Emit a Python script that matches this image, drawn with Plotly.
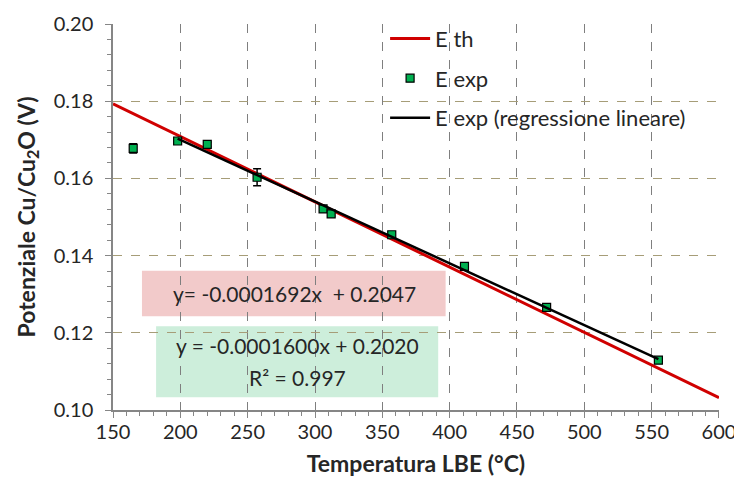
import plotly.graph_objects as go

# Data
temp_exp = [165, 198, 220, 257, 306, 312, 357, 411, 472, 555]
e_exp = [0.1678, 0.1697, 0.1688, 0.1603, 0.1521, 0.1508, 0.1454, 0.1372, 0.1266, 0.1129]
e_err = [0.0012, 0.0005, 0.0006, 0.0022, 0.0005, 0.0006, 0.0008, 0.0004, 0.0006, 0.0004]

th_slope, th_icpt = -0.0001692, 0.2047
reg_slope, reg_icpt = -0.0001600, 0.2020
th_x = [150, 600]
reg_x = [198, 555]

th_y = [th_slope * x + th_icpt for x in th_x]
reg_y = [reg_slope * x + reg_icpt for x in reg_x]

FONT = "Lato, Open Sans, sans-serif"
TXT = "#262626"

fig = go.Figure()
fig.add_trace(go.Scatter(x=th_x, y=th_y, mode="lines", name="E th",
                         line=dict(color="#d00000", width=3), legendgroup="a"))
fig.add_trace(go.Scatter(x=temp_exp, y=e_exp, mode="markers", name="E exp",
                         marker=dict(symbol="square", size=8, color="#00b050",
                                     line=dict(color="black", width=1.2)),
                         error_y=dict(type="data", array=e_err, visible=True,
                                      color="black", thickness=1.5, width=4),
                         legendgroup="b"))
fig.add_trace(go.Scatter(x=reg_x, y=reg_y, mode="lines",
                         name="E exp (regressione lineare)",
                         line=dict(color="black", width=2.5), legendgroup="c"))

# annotation boxes
fig.add_shape(type="rect", xref="x", yref="y", x0=171.5, x1=397, y0=0.1243, y1=0.1361,
              fillcolor="#f2caca", line=dict(width=0), layer="below")
fig.add_shape(type="rect", xref="x", yref="y", x0=182, x1=391.5, y0=0.1033, y1=0.1217,
              fillcolor="#cdeedb", line=dict(width=0), layer="below")

fig.add_annotation(x=285, y=0.1301, xref="x", yref="y", text="y= -0.0001692x  + 0.2047",
                   showarrow=False, font=dict(family=FONT, size=21, color=TXT))
fig.add_annotation(x=287, y=0.1168, xref="x", yref="y", text="y = -0.0001600x + 0.2020",
                   showarrow=False, font=dict(family=FONT, size=21, color=TXT))
fig.add_annotation(x=287, y=0.1083, xref="x", yref="y", text="R² = 0.997",
                   showarrow=False, font=dict(family=FONT, size=21, color=TXT))

# The page body has an 8px margin, so the figure is 8px smaller and margins compensate
fig.update_layout(
    width=734, height=487,
    margin=dict(l=105, r=23, t=10, b=85),
    paper_bgcolor="white", plot_bgcolor="white",
    font=dict(family=FONT, size=20, color=TXT),
    showlegend=True,
    legend=dict(x=0.449, y=1.016, xanchor="left", yanchor="top",
                bgcolor="rgba(0,0,0,0)", tracegroupgap=8,
                font=dict(family=FONT, size=22, color=TXT),
                itemwidth=40),
)

fig.update_xaxes(
    range=[150, 600.01], dtick=50, tick0=150, automargin=False,
    showline=True, linecolor="#868686", linewidth=1.5,
    ticks="outside", ticklen=6, tickcolor="#868686", ticklabelstandoff=-3,
    showgrid=True, gridcolor="#7f7f7f", griddash="dash", gridwidth=1,
    zeroline=False,
    minor=dict(dtick=10, ticks="outside", ticklen=4, tickcolor="#868686", showgrid=False),
    title=dict(text="<b>Temperatura LBE (°C)</b>", font=dict(family=FONT, size=23, color=TXT), standoff=14),
    tickfont=dict(family=FONT, size=20, color=TXT),
)
fig.update_yaxes(
    range=[0.10, 0.20001], dtick=0.02, tick0=0.10, tickformat=".2f", automargin=False,
    showline=True, linecolor="#868686", linewidth=1.5,
    ticks="outside", ticklen=6, tickcolor="#868686", ticklabelstandoff=8,
    showgrid=True, gridcolor="#a69d78", griddash="dash", gridwidth=1,
    zeroline=False,
    minor=dict(dtick=0.004, ticks="outside", ticklen=4, tickcolor="#868686", showgrid=False),
    title=dict(text="<b>Potenziale Cu/Cu<sub>2</sub>O (V)</b>", font=dict(family=FONT, size=23, color=TXT), standoff=12),
    tickfont=dict(family=FONT, size=20, color=TXT),
)

fig.write_html("out.html")
